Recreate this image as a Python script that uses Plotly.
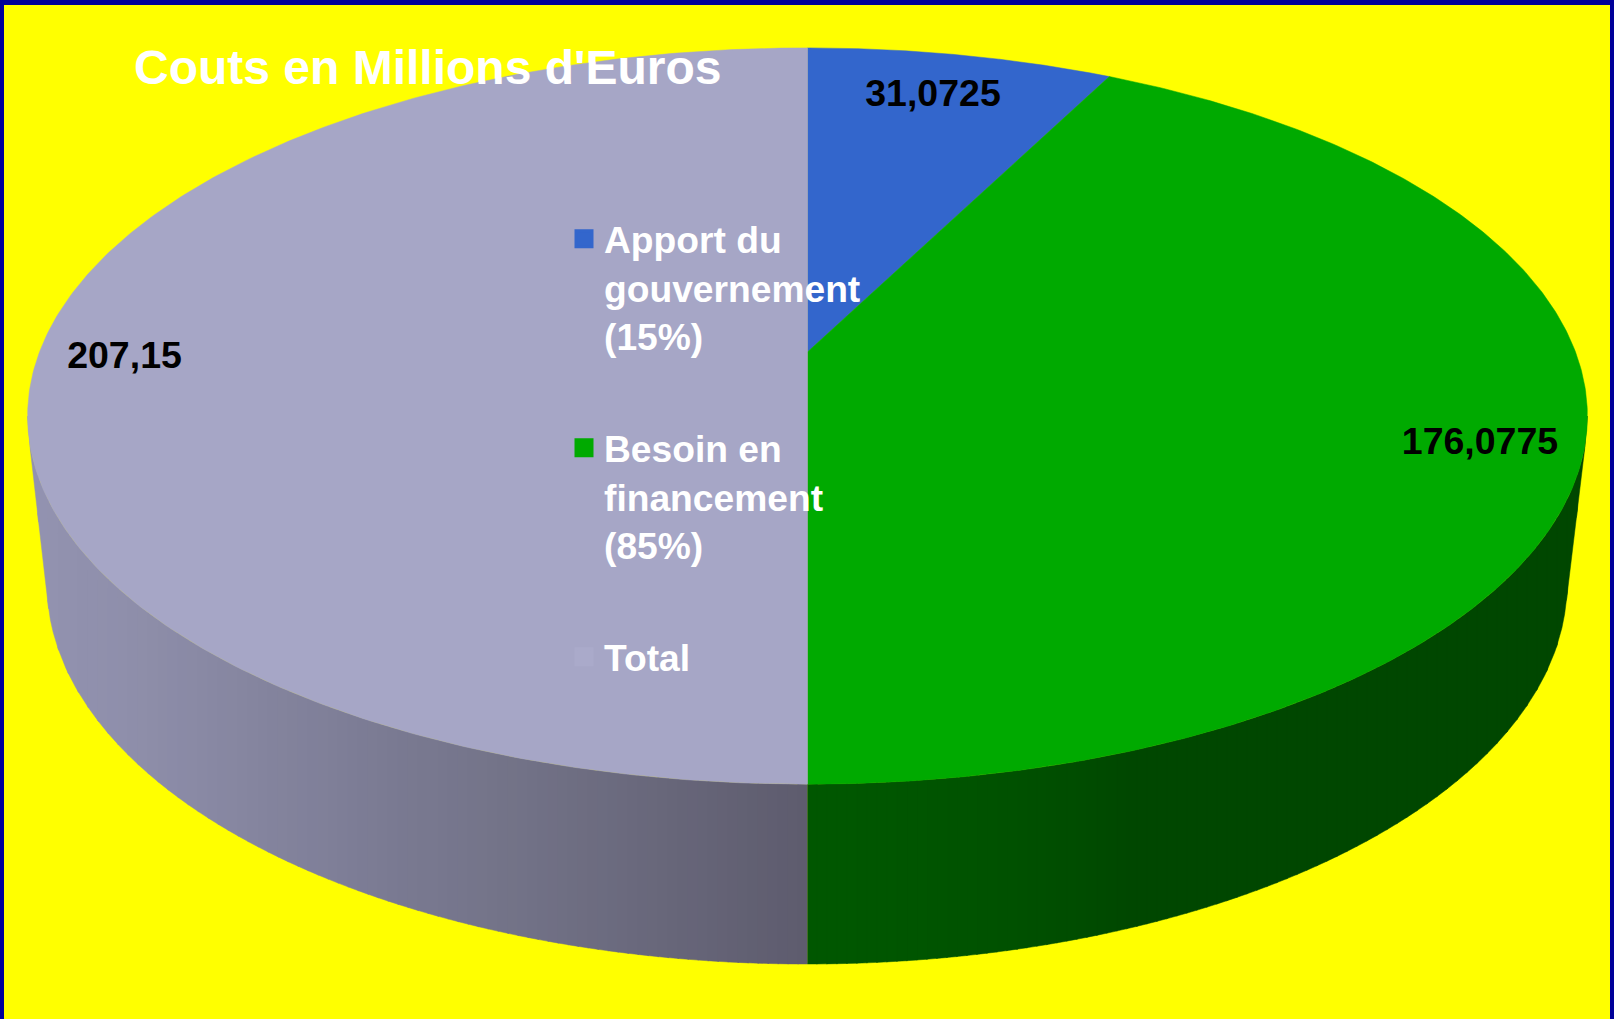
import numpy as np
import plotly.graph_objects as go

# ---- data ----
categories = ["Apport du<br>gouvernement<br>(15%)", "Besoin en<br>financement<br>(85%)", "Total"]
values = [31.0725, 176.0775, 207.15]
title_text = "Couts en Millions d'Euros"

# ---- styles ----
face_colors = ["#3366CC", "#00AA00", "#A6A6C6"]
key_colors = ["#3366CC", "#00AA00", "#AAAACA"]
YELLOW, NAVY = "#FFFF00", "#000099"
W, H = 1614, 1019
font = "Liberation Sans, Arial, sans-serif"

# ---- drawing geometry (perspective disc) ----
CX, Y0, A, B, K = 807.5, 352.0, 768.0, 357.0, 0.1739
BOT_CX, BOT_CY, BOT_A, BOT_B = 807.0, 584.0, 760.0, 380.0
label_xy = [(933, 97), (1480, 445), (124.5, 359)]
side_x_left = [27, 130, 400, 500, 808]
side_rgb_left = [(147, 147, 177), (143, 143, 171), (122, 122, 146), (116, 116, 137), (94, 92, 110)]
side_x_right = [808, 900, 1000, 1090, 1140, 1300, 1587]
side_rgb_right = [(0, 88, 0), (0, 86, 0), (0, 82, 0), (0, 76, 0), (0, 71, 0), (0, 71, 0), (0, 72, 0)]


def project(theta):
    w = 1 + K * np.cos(theta)
    return CX + A * np.sin(theta) / w, Y0 - B * np.cos(theta) / w


def rgb_at(x, xs, cols):
    return "rgb(%d,%d,%d)" % tuple(np.interp(x, xs, [c[i] for c in cols]) for i in range(3))


total = sum(values)
edges = 2 * np.pi * np.concatenate([[0], np.cumsum(values)]) / total

# hull of top and bottom ellipses, lower outline
t = np.linspace(0, 2 * np.pi, 2881)
tx, ty = project(t)
bx, by = BOT_CX + BOT_A * np.sin(t), BOT_CY - BOT_B * np.cos(t)
pts = sorted(set(zip(np.r_[tx, bx].round(3).tolist(), np.r_[ty, by].round(3).tolist())))
lower = []
for p in pts:
    while len(lower) >= 2 and (lower[-1][0] - lower[-2][0]) * (p[1] - lower[-2][1]) - (lower[-1][1] - lower[-2][1]) * (p[0] - lower[-2][0]) >= 0:
        lower.pop()
    lower.append(p)
hx, hy = zip(*lower)

# near arc of the top ellipse as an explicit function of x
x_min, x_max = float(tx.min()), float(tx.max())
top_cy = (float(ty.min()) + float(ty.max())) / 2
top_b = (float(ty.max()) - float(ty.min())) / 2
top_cx, top_a = (x_min + x_max) / 2, (x_max - x_min) / 2


def top_near(x):
    return top_cy + top_b * np.sqrt(np.clip(1 - ((x - top_cx) / top_a) ** 2, 0, 1))


fig = go.Figure()


def add_strip(x0, x1, color):
    xs = np.linspace(x0, x1, 5)
    yt = top_near(xs)
    yb = np.interp(xs, hx, hy)
    fig.add_trace(go.Scatter(
        x=np.r_[xs, xs[::-1]], y=np.r_[yb, yt[::-1]], mode="lines", fill="toself",
        fillcolor=color, line=dict(color=color, width=0.5), hoverinfo="skip", showlegend=False))


split = float(project(edges[2])[0])
step = 10
for x in np.arange(x_min, split, step):
    add_strip(x, min(x + step + 1, split), rgb_at(x + step / 2, side_x_left, side_rgb_left))
for x in np.arange(x_max, split, -step):
    add_strip(max(x - step - 1, split), x, rgb_at(x - step / 2, side_x_right, side_rgb_right))

# top faces
for i, name in enumerate(categories):
    th = np.linspace(edges[i], edges[i + 1], 300)
    px, py = project(th)
    fig.add_trace(go.Scatter(
        x=np.r_[CX, px, CX], y=np.r_[Y0, py, Y0], mode="lines", fill="toself",
        fillcolor=face_colors[i], line=dict(color=face_colors[i], width=0.5),
        hoverinfo="skip", showlegend=False))

# legend keys
for i, name in enumerate(categories):
    fig.add_trace(go.Scatter(
        x=[None], y=[None], mode="markers", name=name, legendgroup=str(i),
        marker=dict(symbol="square", size=16, color=key_colors[i], line=dict(color=key_colors[i], width=3))))

# value labels
fig.add_trace(go.Scatter(
    x=[p[0] for p in label_xy], y=[p[1] for p in label_xy], mode="text",
    text=[str(v).replace(".", ",") for v in values], textposition="middle center",
    textfont=dict(family=font, size=37.5, color="#000000", weight="bold"),
    hoverinfo="skip", showlegend=False))

fig.update_layout(
    width=W, height=H, autosize=False,
    margin=dict(l=0, r=0, t=0, b=0, pad=0),
    paper_bgcolor=YELLOW, plot_bgcolor=YELLOW,
    xaxis=dict(range=[0, W], visible=False, fixedrange=True),
    yaxis=dict(range=[H, 0], visible=False, fixedrange=True),
    title=dict(text=title_text, x=134 / W, xanchor="left", y=1 - 67 / H, yanchor="middle",
               xref="paper", yref="paper",
               font=dict(family=font, size=48, color="#FFFFFF", weight="bold")),
    legend=dict(x=564 / W, xanchor="left", y=1 - 208 / H, yanchor="top", bgcolor="rgba(0,0,0,0)",
                font=dict(family=font, size=37.2, color="#FFFFFF", weight="bold"),
                tracegroupgap=61, valign="top", itemclick=False, itemdoubleclick=False),
    shapes=[
        dict(type="rect", xref="x", yref="y", x0=0, x1=W, y0=0, y1=5, fillcolor=NAVY, line_width=0),
        dict(type="rect", xref="x", yref="y", x0=0, x1=4, y0=0, y1=H, fillcolor=NAVY, line_width=0),
        dict(type="rect", xref="x", yref="y", x0=W - 4, x1=W, y0=0, y1=H, fillcolor=NAVY, line_width=0),
    ],
)

fig.write_html("out.html", config=dict(displayModeBar=False),
               post_script="document.body.style.margin='0';document.documentElement.style.overflow='hidden';")
